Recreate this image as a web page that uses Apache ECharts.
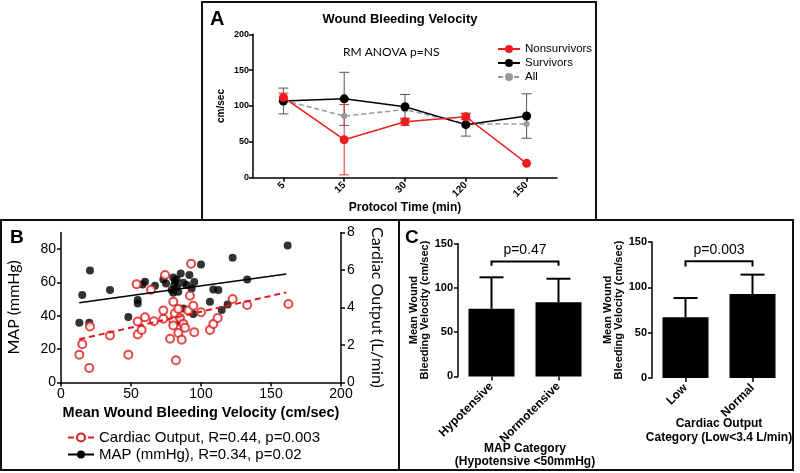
<!DOCTYPE html>
<html><head><meta charset="utf-8">
<script src="https://cdn.jsdelivr.net/npm/echarts@6/dist/echarts.min.js"></script>
<style>html,body{margin:0;padding:0;background:#fff}#c{width:800px;height:473px}</style>
</head><body><div id="c"></div>
<script>
// ---- Panel A data ----
const timeCats = ['5', '15', '30', '120', '150'];
const nonsurv = [112, 53, 78, 85, 20];
const nonsurvErr = [6, 49, 5, 4, 0];
const surv = [107, 110, 99, 74, 86];
const survErr = [18, 37, 17, 16, 31];
const allMean = [108, 86, 95, 75, 75];
const aTicks = [0, 200, 50];

// ---- Panel B data: [velocity, value] ----
const mapPoints = [[13.1,35.8],[15.2,52.4],[20.2,35.8],[20.7,67.2],[35,55.4],[48.1,39.2],[54.8,49.4],[54.8,47.4],[58.3,58.8],[60,60.4],[67.1,58],[73.1,61.8],[75,59.4],[79,55.4],[80.2,63],[80.9,58.4],[80.2,53.8],[81.4,61],[82.6,61.8],[82.9,57.4],[83.8,54.4],[85,36.4],[85.5,65.4],[87.4,59.8],[87.4,44.4],[89.8,58.4],[91.7,64.4],[93.3,56.4],[94.5,41],[95.2,60.2],[100,70.8],[106.4,48.4],[108.8,55.8],[112.4,55.4],[114.8,43.4],[119,46.8],[122.6,74.8],[133,61.8],[161.9,82.2]];
const coPoints = [[13.1,1.48],[15.2,2.04],[20.2,0.77],[20.7,2.98],[35,2.5],[48.1,1.48],[54,5.24],[54.8,3.25],[54.8,2.55],[57.6,2.8],[60,3.47],[64.3,4.94],[66.4,3.26],[73.1,3.39],[73.1,3.83],[74.3,5.73],[77.9,2.33],[80.2,4.3],[80.2,3.3],[80.2,3.03],[81.4,3.69],[82.1,1.18],[83.8,3.92],[83.8,2.63],[85,3.44],[86.2,2.28],[87.4,3.12],[88.6,2.91],[90.9,3.83],[92.1,4.62],[92.9,6.33],[94.5,4.09],[95.2,2.68],[100,3.74],[106.4,2.8],[108.8,3.12],[111.9,3.44],[122.6,4.45],[133,4.13],[162.4,4.18]];
const mapFit = [[13, 47.8], [161, 65]];
const coFit = [[13, 2.3], [161, 4.8]];
const mapName = 'MAP (mmHg), R=0.34, p=0.02';
const coName = 'Cardiac Output, R=0.44, p=0.003';

// ---- Panel C data ----
const mapCats = ['Hypotensive', 'Normotensive'];
const mapMeans = [76.5, 83.7];
const mapUpper = [112, 110.4];
const coCats = ['Low', 'Normal'];
const coMeans = [66.9, 92.6];
const coUpper = [88.2, 114];
const mapBracket = [130, 125, 'p=0.47'];
const coBracket = [128.7, 123, 'p=0.003'];

const F = 'Liberation Sans, Arial, sans-serif';
const chart = echarts.init(document.getElementById('c'));

function errBars(color, lw, capHalf) {
  return function (params, api) {
    const x = api.value(0), m = api.value(1), e = api.value(2);
    if (!e) return null;
    const t = api.coord([x, m + e]), b = api.coord([x, m - e]);
    const st = { stroke: color, lineWidth: lw };
    return { type: 'group', children: [
      { type: 'line', shape: { x1: t[0], y1: t[1], x2: b[0], y2: b[1] }, style: st },
      { type: 'line', shape: { x1: t[0] - capHalf, y1: t[1], x2: t[0] + capHalf, y2: t[1] }, style: st },
      { type: 'line', shape: { x1: b[0] - capHalf, y1: b[1], x2: b[0] + capHalf, y2: b[1] }, style: st }
    ]};
  };
}
function upBars(params, api) {
  const x = api.value(0), m = api.value(1), u = api.value(2);
  const t = api.coord([x, u]), b = api.coord([x, m]);
  const st = { stroke: '#000', lineWidth: 2 };
  return { type: 'group', children: [
    { type: 'line', shape: { x1: t[0], y1: t[1], x2: b[0], y2: b[1] }, style: st },
    { type: 'line', shape: { x1: t[0] - 12, y1: t[1], x2: t[0] + 12, y2: t[1] }, style: st }
  ]};
}
function bracket(params, api) {
  const yTop = api.value(1), yBot = api.value(2), label = api.value(3);
  const a = api.coord([0, yTop]), b = api.coord([1, yTop]);
  const a2 = api.coord([0, yBot]), b2 = api.coord([1, yBot]);
  return { type: 'group', children: [
    { type: 'polyline', shape: { points: [[a2[0], a2[1]], [a[0], a[1]], [b[0], b[1]], [b2[0], b2[1]]] },
      style: { stroke: '#000', lineWidth: 2, fill: null } },
    { type: 'text', x: (a[0] + b[0]) / 2, y: a[1] - 4,
      style: { text: label, fill: '#000', font: '14px ' + F, textAlign: 'center', textVerticalAlign: 'bottom' } }
  ]};
}

const axisLineBlack = { show: true, lineStyle: { color: '#000', width: 1.5 } };
const tickBlack = { show: true, length: 4, lineStyle: { color: '#000', width: 1.5 } };

const option = {
  animation: false,
  backgroundColor: '#fff',
  title: { text: 'Wound Bleeding Velocity', left: 'center', top: 8,
    textStyle: { fontFamily: F, fontSize: 13, fontWeight: 'bold', color: '#000' } },
  legend: [
    { data: ['Nonsurvivors', 'Survivors', 'All'], orient: 'vertical', left: 492, top: 38,
      itemGap: 2, itemWidth: 22, itemHeight: 10,
      textStyle: { fontFamily: F, fontSize: 11.5, color: '#000' } },
    { data: [coName, mapName], orient: 'vertical', left: 62, top: 425,
      itemGap: 2, itemWidth: 26, itemHeight: 10,
      textStyle: { fontFamily: F, fontSize: 15, color: '#000' } }
  ],
  grid: [
    { left: 253, top: 34.3, width: 304, height: 143.4 },
    { left: 61, top: 232.4, width: 280, height: 150 },
    { left: 458, top: 243.7, width: 134, height: 132.7 },
    { left: 652, top: 242, width: 134, height: 136 }
  ],
  xAxis: [
    { type: 'category', gridIndex: 0, data: timeCats, boundaryGap: true,
      axisLine: axisLineBlack, axisTick: { show: true, alignWithLabel: true, length: 4, lineStyle: { color: '#000', width: 1.5 } },
      axisLabel: { rotate: 45, fontFamily: F, fontSize: 10, fontWeight: 'bold', color: '#000', margin: 6 },
      name: 'Protocol Time (min)', nameLocation: 'middle', nameGap: 22,
      nameTextStyle: { fontFamily: F, fontSize: 12, fontWeight: 'bold', color: '#000' } },
    { type: 'value', gridIndex: 1, min: 0, max: 200, interval: 50,
      axisLine: axisLineBlack, axisTick: tickBlack, splitLine: { show: false },
      axisLabel: { fontFamily: F, fontSize: 14, color: '#000', margin: 5 },
      name: 'Mean Wound Bleeding Velocity (cm/sec)', nameLocation: 'middle', nameGap: 23,
      nameTextStyle: { fontFamily: F, fontSize: 14.5, fontWeight: 'bold', color: '#000' } },
    { type: 'category', gridIndex: 2, data: mapCats,
      axisLine: { show: false }, axisTick: { show: true, alignWithLabel: true, length: 4, lineStyle: { color: '#000', width: 1.5 } },
      axisLabel: { rotate: 45, fontFamily: F, fontSize: 12, fontWeight: 'bold', color: '#000', margin: 8 },
      name: 'MAP Category\n(Hypotensive <50mmHg)', nameLocation: 'middle', nameGap: 66, nameMoveOverlap: false,
      nameTextStyle: { fontFamily: F, fontSize: 12, fontWeight: 'bold', color: '#000', lineHeight: 13 } },
    { type: 'category', gridIndex: 3, data: coCats,
      axisLine: { show: false }, axisTick: { show: true, alignWithLabel: true, length: 4, lineStyle: { color: '#000', width: 1.5 } },
      axisLabel: { rotate: 45, fontFamily: F, fontSize: 12, fontWeight: 'bold', color: '#000', margin: 8 },
      name: 'Cardiac Output\nCategory (Low<3.4 L/min)', nameLocation: 'middle', nameGap: 39, nameMoveOverlap: false,
      nameTextStyle: { fontFamily: F, fontSize: 12, fontWeight: 'bold', color: '#000', lineHeight: 14 } }
  ],
  yAxis: [
    { type: 'value', gridIndex: 0, min: aTicks[0], max: aTicks[1], interval: aTicks[2],
      axisLine: axisLineBlack, axisTick: tickBlack, splitLine: { show: false },
      axisLabel: { fontFamily: F, fontSize: 9, fontWeight: 'bold', color: '#000', margin: 4 },
      name: 'cm/sec', nameLocation: 'middle', nameGap: 27, nameRotate: 90,
      nameTextStyle: { fontFamily: F, fontSize: 10, fontWeight: 'bold', color: '#000' } },
    { type: 'value', gridIndex: 1, min: 0, max: 90, interval: 20,
      axisLine: axisLineBlack, axisTick: tickBlack, splitLine: { show: false },
      axisLabel: { fontFamily: F, fontSize: 14, color: '#000', margin: 5, showMaxLabel: false },
      name: 'MAP (mmHg)', nameLocation: 'middle', nameGap: 39, nameRotate: 90,
      nameTextStyle: { fontFamily: 'Lato, sans-serif', fontSize: 16, color: '#000' } },
    { type: 'value', gridIndex: 1, position: 'right', min: 0, max: 8, interval: 2,
      axisLine: axisLineBlack, axisTick: tickBlack, splitLine: { show: false },
      axisLabel: { fontFamily: F, fontSize: 14, color: '#000', margin: 6 },
      name: 'Cardiac Output (L/min)', nameLocation: 'middle', nameGap: 28, nameRotate: -90,
      nameTextStyle: { fontFamily: 'Lato, sans-serif', fontSize: 16, color: '#000' } },
    { type: 'value', gridIndex: 2, min: 0, max: 150, interval: 50,
      axisLine: axisLineBlack, axisTick: tickBlack, splitLine: { show: false },
      axisLabel: { fontFamily: F, fontSize: 11, fontWeight: 'bold', color: '#000', margin: 5 },
      name: 'Mean Wound\nBleeding Velocity (cm/sec)', nameLocation: 'middle', nameGap: 28, nameRotate: 90,
      nameTextStyle: { fontFamily: F, fontSize: 11, fontWeight: 'bold', color: '#000', lineHeight: 11 } },
    { type: 'value', gridIndex: 3, min: 0, max: 150, interval: 50,
      axisLine: axisLineBlack, axisTick: tickBlack, splitLine: { show: false },
      axisLabel: { fontFamily: F, fontSize: 11, fontWeight: 'bold', color: '#000', margin: 5 },
      name: 'Mean Wound\nBleeding Velocity (cm/sec)', nameLocation: 'middle', nameGap: 28, nameRotate: 90,
      nameTextStyle: { fontFamily: F, fontSize: 11, fontWeight: 'bold', color: '#000', lineHeight: 11 } }
  ],
  series: [
    // Panel A
    { type: 'custom', xAxisIndex: 0, yAxisIndex: 0, z: 1, silent: true,
      renderItem: errBars('#555', 1, 5), data: timeCats.map((c, i) => [i, surv[i], survErr[i]]) },
    { type: 'custom', xAxisIndex: 0, yAxisIndex: 0, z: 1, silent: true,
      renderItem: errBars('#e8302a', 1, 5), data: timeCats.map((c, i) => [i, nonsurv[i], nonsurvErr[i]]) },
    { name: 'All', type: 'line', xAxisIndex: 0, yAxisIndex: 0, data: allMean, z: 2,
      symbol: 'circle', symbolSize: 6, itemStyle: { color: '#999' },
      lineStyle: { color: '#999', width: 1.5, type: [5, 3] } },
    { name: 'Survivors', type: 'line', xAxisIndex: 0, yAxisIndex: 0, data: surv, z: 3,
      symbol: 'circle', symbolSize: 9, itemStyle: { color: '#000' },
      lineStyle: { color: '#000', width: 1.5 } },
    { name: 'Nonsurvivors', type: 'line', xAxisIndex: 0, yAxisIndex: 0, data: nonsurv, z: 4,
      symbol: 'circle', symbolSize: 9, itemStyle: { color: '#ee1c1c' },
      lineStyle: { color: '#ee1c1c', width: 1.5 } },
    // Panel B
    { type: 'scatter', xAxisIndex: 1, yAxisIndex: 1, data: mapPoints, symbolSize: 8,
      itemStyle: { color: '#000' }, z: 2 },
    { type: 'scatter', xAxisIndex: 1, yAxisIndex: 2, data: coPoints, symbol: 'emptyCircle', symbolSize: 8,
      itemStyle: { color: '#e01b1b', borderColor: '#e01b1b', borderWidth: 2 }, z: 3 },
    { name: mapName, type: 'line', xAxisIndex: 1, yAxisIndex: 1, data: mapFit, showSymbol: false,
      symbol: 'circle', symbolSize: 8, itemStyle: { color: '#000' }, lineStyle: { color: '#000', width: 1.5 }, z: 4 },
    { name: coName, type: 'line', xAxisIndex: 1, yAxisIndex: 2, data: coFit, showSymbol: false,
      symbol: 'emptyCircle', symbolSize: 8, itemStyle: { color: '#e01b1b', borderWidth: 2 },
      lineStyle: { color: '#e01b1b', width: 2, type: [6, 4] }, z: 4 },
    // Panel C
    { type: 'bar', xAxisIndex: 2, yAxisIndex: 3, data: mapMeans, barWidth: 46, itemStyle: { color: '#000' } },
    { type: 'custom', xAxisIndex: 2, yAxisIndex: 3, renderItem: upBars, silent: true,
      data: mapCats.map((c, i) => [i, mapMeans[i], mapUpper[i]]) },
    { type: 'custom', xAxisIndex: 2, yAxisIndex: 3, renderItem: bracket, silent: true,
      data: [[0, mapBracket[0], mapBracket[1], mapBracket[2]]], dimensions: ['x', 'y', 'y2', { name: 'label', type: 'ordinal' }] },
    { type: 'bar', xAxisIndex: 3, yAxisIndex: 4, data: coMeans, barWidth: 46, itemStyle: { color: '#000' } },
    { type: 'custom', xAxisIndex: 3, yAxisIndex: 4, renderItem: upBars, silent: true,
      data: coCats.map((c, i) => [i, coMeans[i], coUpper[i]]) },
    { type: 'custom', xAxisIndex: 3, yAxisIndex: 4, renderItem: bracket, silent: true,
      data: [[0, coBracket[0], coBracket[1], coBracket[2]]], dimensions: ['x', 'y', 'y2', { name: 'label', type: 'ordinal' }] }
  ],
  graphic: [
    { type: 'rect', shape: { x: 202, y: 2, width: 394, height: 218 }, style: { fill: null, stroke: '#111', lineWidth: 2 } },
    { type: 'rect', shape: { x: 1, y: 220, width: 398, height: 250 }, style: { fill: null, stroke: '#111', lineWidth: 2 } },
    { type: 'rect', shape: { x: 399, y: 220, width: 394, height: 250 }, style: { fill: null, stroke: '#111', lineWidth: 2 } },
    { type: 'text', x: 210, y: 9, style: { text: 'A', font: 'bold 20px ' + F, fill: '#000' } },
    { type: 'text', x: 10, y: 228, style: { text: 'B', font: 'bold 19px ' + F, fill: '#000' } },
    { type: 'text', x: 405, y: 228, style: { text: 'C', font: 'bold 19px ' + F, fill: '#000' } },
    { type: 'text', x: 343, y: 46, style: { text: 'RM ANOVA p=NS', font: '12px Lato, sans-serif', fill: '#000' } }
  ]
};
chart.setOption(option);
</script></body></html>
